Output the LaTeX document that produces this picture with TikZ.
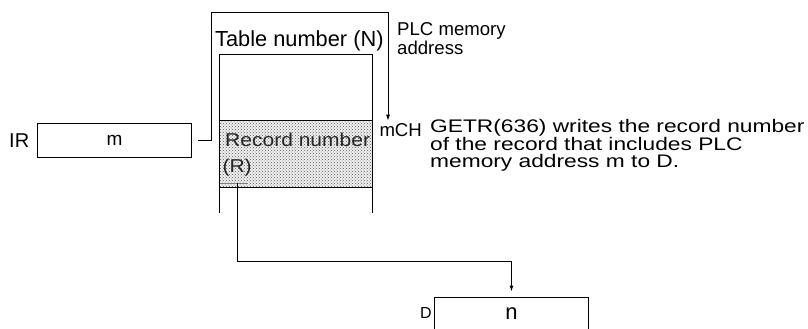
\documentclass[tikz,border=0pt]{standalone}
\usepackage{fontspec}
\setmainfont{Liberation Sans}
\newfontfamily\widefont[FakeStretch=1.25]{Liberation Sans}
\newfontfamily\recfont[FakeStretch=1.13]{Liberation Sans}
\usetikzlibrary{arrows.meta, patterns}
\begin{document}
\begin{tikzpicture}[x=1pt, y=-1pt,
    regbox/.style={draw, line width=0.9pt, minimum width=153.6pt, minimum height=34pt, inner sep=0pt, font=\fontsize{19}{19}\selectfont},
    lbl/.style={anchor=base west, inner sep=0pt, font=\fontsize{18.6}{18.6}\selectfont},
    tableline/.style={line width=0.9pt},
    flow/.style={line width=0.9pt, -{Latex[length=6pt,width=4pt]}}
]
        \clip (0,0) rectangle (808,329);

        % source register and destination word
        \node[lbl, font=\fontsize{20}{20}\selectfont, name=IRlbl] at(9,147) {IR};
        \node[regbox, name=IR] at(114.5,140) {m};
        \node[lbl, font=\fontsize{16}{16}\selectfont, name=Dlbl] at(420,318.3) {D};
        \node[regbox, font=\fontsize{22}{22}\selectfont, name=Dbox] at(511.5,314) {n};

        % table with the shaded record
        \fill[black!6] (219,120) rectangle (372,187);
        \path[pattern=crosshatch dots, pattern color=black!65] (219,120) rectangle (372,187);
        \draw[tableline] (219,213) -- (219,54) -- (372,54) -- (372,213);
        \draw[tableline] (219,120) -- (372,120);
        \draw[tableline] (219,187) -- (372,187);
        \draw[black!50, line width=0.9pt] (220,183) -- (248,183);

        \node[lbl, font=\fontsize{21.8}{21.8}\selectfont, name=tabno] at(215,46.7) {Table number (N)};
        \node[lbl, font=\recfont\fontsize{18.6}{18.6}\selectfont, text=black!85, name=recno] at(225,146.7) {Record number};
        \node[lbl, font=\recfont\fontsize{18.6}{18.6}\selectfont, text=black!85, name=recR] at(222.3,172) {(R)};
        \node[lbl, align=left, name=plc] at(397,54.3) {PLC memory\\address};
        \node[lbl, name=mCH] at(379.3,136) {mCH};
        \node[lbl, font=\widefont\fontsize{18.2}{16.8}\selectfont, align=left, name=note] at(430,167.1) {GETR(636) writes the record number\\of the record that includes PLC\\memory address m to D.};

        \coordinate (upA) at(211,12);
        \coordinate (mch) at(388,120.7);
        \coordinate (rtap) at(237.5,183);
        \coordinate (dturn) at(511.5,261);

        \draw[flow] ([xshift=6pt]IR.east) -| (upA) -| (mch);
        \draw[flow, shorten >=5pt] (rtap) |- (dturn) -- (Dbox.north);
    \end{tikzpicture}
\end{document}
